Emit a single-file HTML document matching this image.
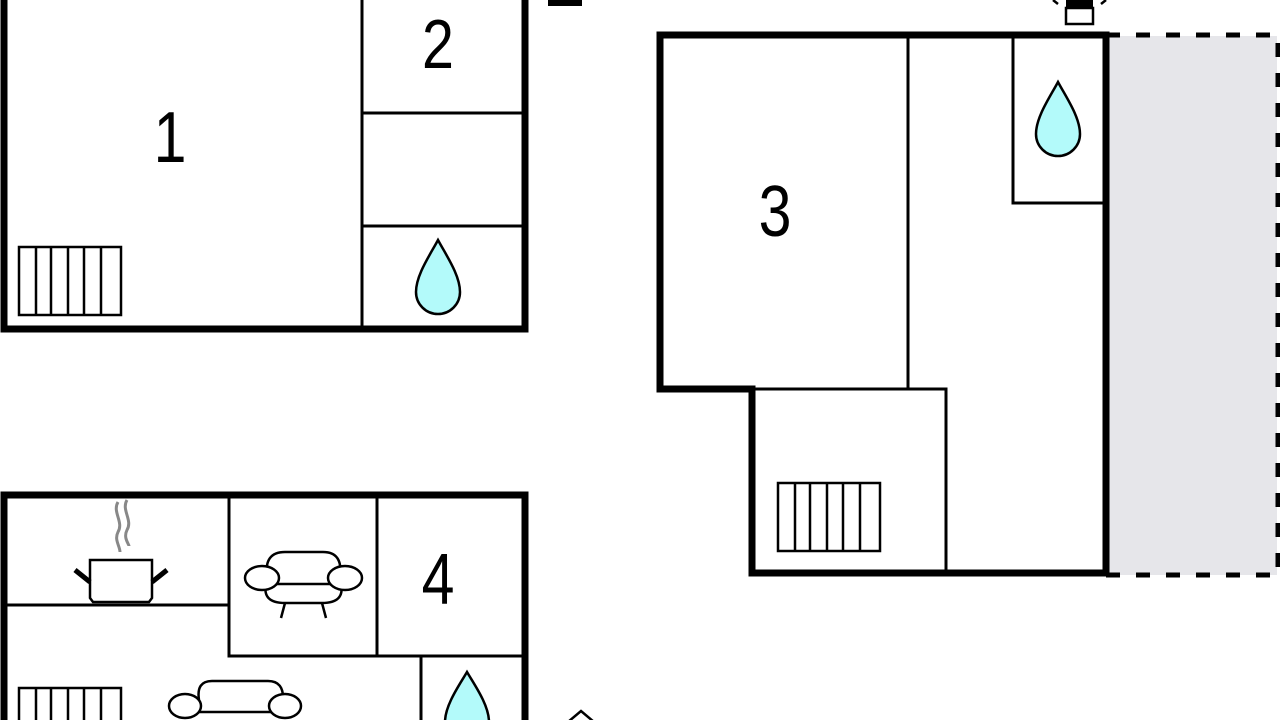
<!DOCTYPE html>
<html><head><meta charset="utf-8"><style>html,body{margin:0;padding:0;background:#fff;width:1280px;height:720px;overflow:hidden}</style></head><body>
<svg width="1280" height="720" viewBox="0 0 1280 720" xmlns="http://www.w3.org/2000/svg" font-family="Liberation Sans, sans-serif">
<defs>
<g id="rad"><rect x="0" y="0" width="102" height="68" fill="#fff" stroke="#000" stroke-width="2.5"/><path d="M17 0V68M32 0V68M49 0V68M65 0V68M82 0V68" stroke="#000" stroke-width="2.5"/></g>
<path id="drop" d="M0,0 C-8,15 -22,35 -22,52 A22,22 0 0 0 22,52 C22,35 8,15 0,0Z" fill="#b3fafa" stroke="#000" stroke-width="2.5"/>
</defs>
<!-- Block 1 -->
<path d="M4,0 V329 H525 V0" fill="none" stroke="#000" stroke-width="7"/>
<path d="M362,0 V329 M362,113 H525 M362,226 H525" stroke="#000" stroke-width="3"/>
<text x="170" y="162" font-size="72" text-anchor="middle" transform="translate(170 0) scale(0.82 1) translate(-170 0)">1</text>
<text x="438" y="68" font-size="70" text-anchor="middle" transform="translate(438 0) scale(0.82 1) translate(-438 0)">2</text>
<use href="#rad" x="19" y="247"/>
<use href="#drop" x="438" y="240"/>
<rect x="548" y="0" width="34" height="6" fill="#000"/>
<!-- Block 3 -->
<rect x="1109" y="36" width="168" height="539" fill="#e6e6ea"/>
<path d="M1106,35 H1278 V575 H1106" fill="none" stroke="#000" stroke-width="5" stroke-dasharray="14 16"/>
<path d="M660,389 V35 H1106 V573 H752 V389 Z" fill="none" stroke="#000" stroke-width="7"/>
<path d="M908,35 V389 M752,389 H946 V573 M1013,35 V203 H1106" fill="none" stroke="#000" stroke-width="3"/>
<text x="775" y="236" font-size="72" text-anchor="middle" transform="translate(775 0) scale(0.82 1) translate(-775 0)">3</text>
<use href="#drop" x="1058" y="82"/>
<use href="#rad" x="778" y="483"/>
<rect x="1066" y="8" width="27" height="16" fill="#fff" stroke="#000" stroke-width="2.5"/>
<rect x="1066" y="0" width="27" height="9" fill="#000"/>
<path d="M1053,0 L1058,4 M1106,0 L1101,4" stroke="#000" stroke-width="2.5"/>
<!-- Block 4 -->
<path d="M4,720 V495 H525 V720" fill="none" stroke="#000" stroke-width="7"/>
<path d="M5,605 H229 M229,495 V656 H525 M377,495 V656 M421,656 V720" fill="none" stroke="#000" stroke-width="3"/>
<text x="438" y="604" font-size="72" text-anchor="middle" transform="translate(438 0) scale(0.82 1) translate(-438 0)">4</text>
<!-- pot -->
<path d="M118,502 C112,512 124,522 118,532 C114,540 120,546 120,552 M127,500 C121,510 133,520 127,530 C123,538 129,544 129,546" fill="none" stroke="#888" stroke-width="3"/>
<path d="M90,560 H152 V598 L149,602 H93 L90,598 Z" fill="#fff" stroke="#000" stroke-width="2.5"/>
<path d="M75,570 L90,582 M167,570 L152,582" stroke="#000" stroke-width="5"/>
<!-- sofa 1 -->
<g fill="#fff" stroke="#000" stroke-width="2.5">
<path d="M267,576 Q264,552 285,552 H323 Q343,552 340,576"/>
<path d="M266,584 Q262,603 285,603 H322 Q345,603 341,584"/>
<path d="M285,603 L281,618 M322,603 L326,618"/>
<path d="M270,584 H337"/>
<ellipse cx="262" cy="578" rx="17" ry="12"/>
<ellipse cx="345" cy="578" rx="17" ry="12"/>
</g>
<!-- sofa 2 -->
<g fill="#fff" stroke="#000" stroke-width="2.5">
<path d="M199,700 Q196,681 212,681 H268 Q284,681 283,700"/>
<path d="M190,712 H280"/>
<ellipse cx="185" cy="706" rx="16" ry="12"/>
<ellipse cx="285" cy="706" rx="16" ry="12"/>
</g>
<use href="#rad" x="19" y="688"/>
<path d="M467,672 C460,684 445,705 445,722 L489,722 C489,705 474,684 467,672Z" fill="#b3fafa" stroke="#000" stroke-width="2.5"/>
<path d="M568,722 L581,711 L594,722" fill="none" stroke="#000" stroke-width="2.5"/>
</svg>
</body></html>
